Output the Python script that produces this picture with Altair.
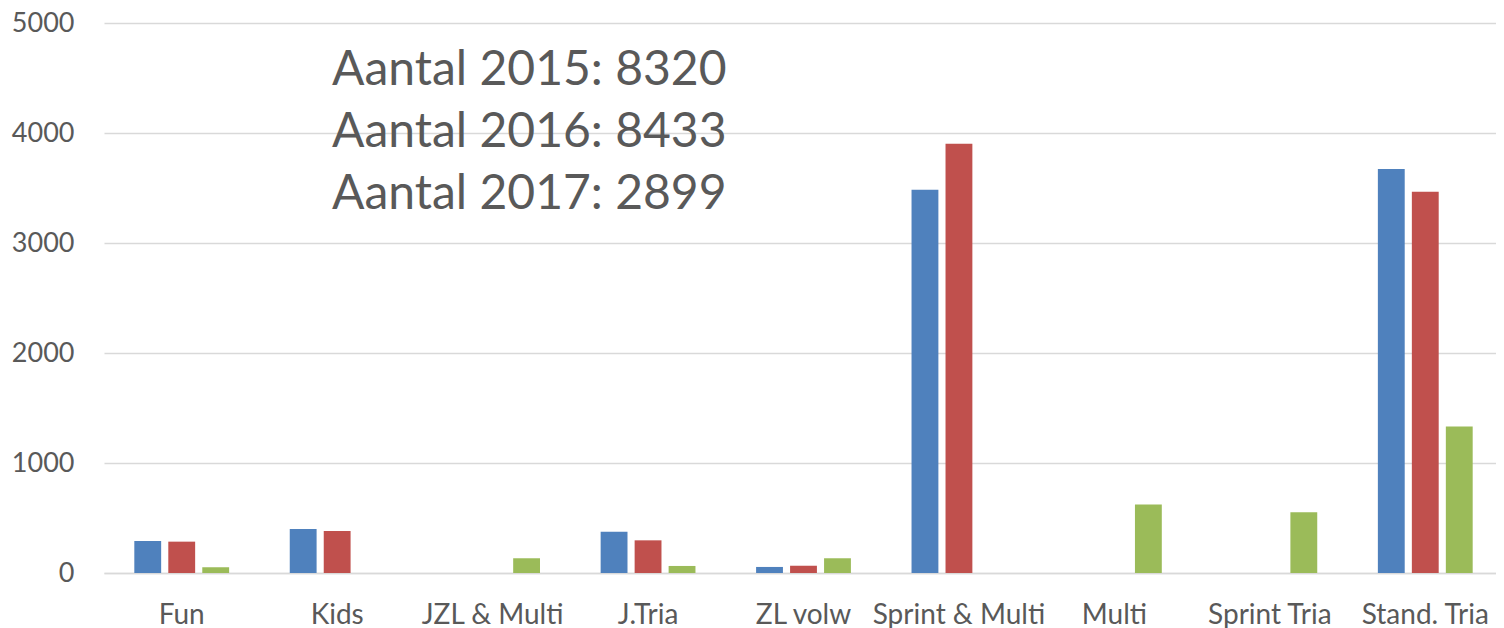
import altair as alt
import pandas as pd

categories = ["Fun", "Kids", "JZL & Multi", "J.Tria", "ZL volw",
              "Sprint & Multi", "Multi", "Sprint Tria", "Stand. Tria"]
years = ["2015", "2016", "2017"]
v2015 = [291, 400, 0, 376, 55, 3485, 0, 0, 3673]
v2016 = [285, 382, 0, 297, 66, 3903, 0, 0, 3467]
v2017 = [52, 0, 134, 64, 134, 0, 622, 552, 1331]
colors = ["#4F81BD", "#C0504D", "#9BBB59"]
annotation = ["Aantal 2015: 8320", "Aantal 2016: 8433", "Aantal 2017: 2899"]

rows = []
for yr, vals in zip(years, [v2015, v2016, v2017]):
    for c, v in zip(categories, vals):
        rows.append({"cat": c, "year": yr, "value": v})
df = pd.DataFrame(rows)

FONT = "Lato"
GREY = "#595959"

bars = alt.Chart(df).mark_bar().encode(
    x=alt.X("cat:N", sort=categories,
            scale=alt.Scale(paddingInner=0.39, paddingOuter=0.195, range=[0, 1399]),
            axis=alt.Axis(title=None, labelAngle=0, ticks=False,
                          domainColor="#d9d9d9", domainWidth=1.5,
                          labelFont=FONT, labelFontSize=28, labelColor=GREY,
                          labelBaseline="alphabetic", labelPadding=50)),
    xOffset=alt.XOffset("year:N", sort=years,
                        scale=alt.Scale(paddingInner=0.21, paddingOuter=0)),
    y=alt.Y("value:Q", scale=alt.Scale(domain=[0, 5000], nice=False),
            axis=alt.Axis(title=None, values=[0, 1000, 2000, 3000, 4000, 5000],
                          format="d", ticks=False, domain=False, gridColor="#d9d9d9",
                          gridWidth=1.5, labelFont=FONT, labelFontSize=27,
                          labelColor=GREY, labelPadding=30)),
    color=alt.Color("year:N", sort=years,
                    scale=alt.Scale(domain=years, range=colors), legend=None),
)

text = alt.Chart(pd.DataFrame({"t": [annotation]})).mark_text(
    align="left", baseline="top", font=FONT, fontSize=48, color=GREY,
    lineHeight=62,
).encode(text="t", x=alt.value(228), y=alt.value(24))

chart = (bars + text).properties(
    width=1392, height=550,
    autosize=alt.AutoSizeParams(type="none"),
    padding={"left": 96, "top": 15, "right": 0, "bottom": 57},
).configure_view(stroke=None)

chart.save("out.html", embed_options={"renderer": "svg", "actions": False})
